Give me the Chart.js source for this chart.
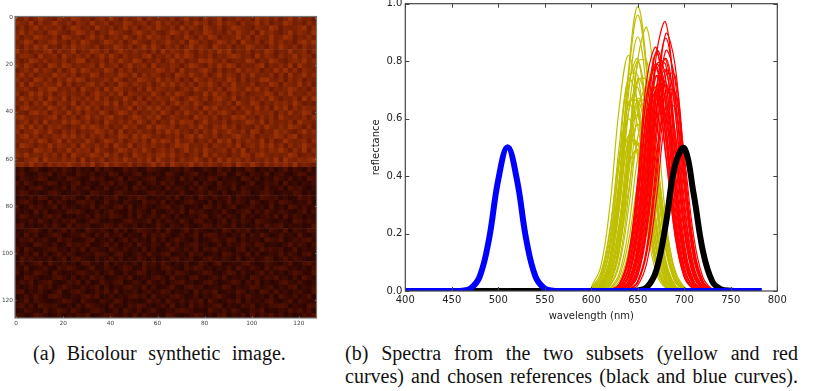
<!DOCTYPE html>
<html>
<head>
<meta charset="utf-8">
<script src="https://cdn.jsdelivr.net/npm/chart.js@4/dist/chart.umd.min.js"></script>
<style>
  html, body { margin: 0; padding: 0; background: #fff; }
  body { width: 827px; height: 391px; overflow: hidden; position: relative; }
  canvas { position: absolute; }
  #imageChart { left: 0; top: 0; filter: blur(0.6px); }
  #spectraChart { left: 368px; top: 0; }
  .caption { position: absolute; font-family: "Liberation Serif", serif; font-size: 20px; color: #111; white-space: nowrap; }
  #captionA { left: 33px; top: 342px; word-spacing: 6.5px; }
  #captionB1 { left: 345px; top: 342px; width: 453px; white-space: normal; text-align: justify; text-align-last: justify; }
  #captionB2 { left: 345px; top: 365px; width: 453px; white-space: normal; text-align: justify; text-align-last: justify; }
</style>
</head>
<body>
<canvas id="imageChart" width="330" height="340"></canvas>
<canvas id="spectraChart" width="440" height="322"></canvas>
<div class="caption" id="captionA">(a) Bicolour synthetic image.</div>
<div class="caption" id="captionB1">(b) Spectra from the two subsets (yellow and red</div>
<div class="caption" id="captionB2">curves) and chosen references (black and blue curves).</div>
<script>
// image ticks
const imageTicks = [0, 20, 40, 60, 80, 100, 120];

// intensity of the noisy image, read by eye as blocks of 2x2 image pixels (0 dark, 9 bright)
const topRows = [
  "7685797658769867578697586795867768579675867957686759786857968675",
  "8769586797685876967857698678579686758697857968758679685769867586",
  "6857968768579867597685796857869768596875976857987658769857678958",
  "7968675897657986857698765897686579868576986758697685978657968769",
  "8576987685986757968578697586978685769758698576796858769679857686",
  "6798576896758698657986857976586797685986757986859768579686758979",
  "7586979675869787685769868579697586857968759768576986758697685867",
  "9675768958679576986857976867585968769758686979576857698576967858",
  "6887596785976868579697586768957686979857685768986759687586796875",
  "7569868676857995768586976985768579685769897685676985769865787968",
  "8697575986986767859678579678596768757986586979857668957686959767",
  "5786968758579698676985868576779868596768975857696878576979685876",
  "7968577697868576985776986958687575986976857968758696768585967968",
  "8675986858697985767869757698769686857597686769858576997685868576",
  "6959768769585768968575986876857979686858797586967685769858769685",
  "7786587996768597685969867585968767578697686858976979685767986758",
  "8569796857867685797686958767697586986576969785868567798586967687",
  "6978685976958768696857697585868769757986858976957686869757685969",
  "7685869758769586877969586978576857968697567868597698576878697565",
  "5897676986857979685768679586979686587685979676858769685979586877",
  "7658978587696858769757986857686975869768586897576968778586967985",
  "8976767895868579686896757986879568767597868576989675868597676858",
  "6785859676979868575976868697585769698857967685767986958676859776",
  "7969685878657697986857697856969878576869758796857658697686987585",
  "8577976965868576798685957686758697967585869679768598576978657968",
  "6896857687979685868576986979867576858969768576897685767986895767",
  "7678698579586769757986857868597986967857685979586876958569767858",
  "5987576968768597686859769578686757989676858768695786979685867976",
  "7665987857696878597657986869757868579686976785869576868797586958",
  "8796768685859767986968575976868979675785968675769858976767985676",
  "6578959776868595768578697686959768586797585969786857686959768789",
  "7869675868797686957968768575796859767968687578597697586878695765"
];
const bottomRows = [
  "1302410231420312041320142301432102314201320413021430213024132041",
  "2410132402310421302143021340212043102341021340142032140231024312",
  "0321243012143201423012403212340132041302143021204313021421302043",
  "3142012430213402103241320140231423012140320412310240132304120213",
  "1203341021304123021402130423012041320314201321403212041130423102",
  "2431201342012310432103421201342302141023142030124301342012143021",
  "0213143021423104120324013243012131402304213124032110432302014231",
  "1342020413201342301412032104231402013421030214132042013143202140",
  "3014231240312021403213414023102341230120431302401231204020431312",
  "2120413012143420130242103132041023140423102141023403142132102403",
  "1431203423010213042143203041231420301213402313204120231404132021",
  "0213142031324102431020134212403132142034120240313204321021043132",
  "3402013142041323012431421302014203213102431321402013142340212014",
  "1123420302413104213204130243213041024132102043132402103214032143",
  "2041301243012242031412302104132420131240343120214031420131204102",
  "0324123104231013402130241312041302421030124214303122043240132341",
  "1210432130142324012413023042132041302341201303124214301102413203",
  "3042012341203140321042131204030124213140324121034021423230140212",
  "2131403024132012143203410231421340120423012043121403012141320340",
  "0423121302403421031241302142030213412301342132040231243024132101",
  "1302340421312034120403121304231420213014203401213420132102401342",
  "2140123103243102401320243014120342103243120213042132041343120203",
  "3021432042011342130241031243021031432012431024303102413020243114",
  "0143201134203021423012324012134204120341023140212043132412030421",
  "1324023410132403014213401320421302341201342012430314020134213102",
  "2013142302421131240302134214030124103423012143021243123021340213",
  "3402131024013420132414021302312430212041324012143020431412023104",
  "0131420343102134240130213423041213420130213421031421203042131240",
  "1240321012431042103214302101423042131324042013240312134102403212",
  "2413043231020314321041203243102314020413123402103240213343021043",
  "0132104124314201342013042130241021343201042131420132401021424130",
  "3201432013021324012342131403212043101243120340213041324130201324"
];
const heatColours = ["#2c0600", "#340800", "#3c0a00", "#460d00", "#501000", "#6c1a02", "#752003", "#7f2403", "#8a2904", "#973005"];

// spectra, values at the wavelengths below
const yellowWavelengths = [600, 610, 620, 630, 640, 650, 660, 670, 680, 690, 700, 710];
const yellowCurves = [
  [.002, .017, .1, .356, .767, .99, .767, .356, .1, .017, .002, 0],
  [.002, .016, .097, .346, .744, .96, .744, .346, .097, .016, .002, 0],
  [0, .004, .026, .135, .426, .805, .915, .624, .256, .063, .009, .001],
  [.002, .015, .089, .319, .686, .885, .686, .319, .089, .015, .002, 0],
  [.014, .083, .295, .636, .82, .636, .295, .083, .014, .002, 0, 0],
  [.005, .035, .162, .45, .75, .75, .45, .162, .035, .005, 0, 0],
  [.002, .014, .081, .288, .62, .8, .62, .288, .081, .014, .002, 0],
  [.001, .008, .051, .206, .503, .738, .65, .344, .109, .021, .003, 0],
  [.003, .02, .104, .33, .624, .708, .483, .198, .049, .007, .001, 0],
  [0, .004, .031, .142, .394, .657, .657, .394, .142, .031, .004, 0],
  [.001, .011, .067, .238, .512, .66, .512, .238, .067, .011, .001, 0],
  [.007, .045, .182, .443, .649, .572, .302, .096, .018, .003, 0, 0],
  [0, .002, .017, .09, .284, .537, .61, .416, .171, .042, .006, .001],
  [.001, .01, .059, .209, .45, .58, .45, .209, .059, .01, .001, 0],
  [.003, .024, .112, .31, .516, .516, .31, .112, .024, .003, 0, 0],
  [.001, .005, .035, .143, .349, .512, .45, .238, .075, .015, .002, 0],
  [.002, .014, .073, .229, .433, .492, .336, .138, .034, .005, .001, 0],
  [0, .001, .008, .048, .173, .372, .48, .372, .173, .048, .008, .001],
  [.008, .051, .206, .503, .738, .65, .344, .109, .021, .003, 0, 0],
  [.004, .031, .142, .394, .657, .657, .394, .142, .031, .004, 0, 0],
  [.003, .023, .119, .376, .71, .807, .55, .226, .056, .008, .001, 0],
  [0, .005, .034, .158, .439, .732, .732, .439, .158, .034, .005, 0],
  [.001, .007, .046, .187, .456, .669, .589, .311, .099, .019, .003, 0],
  [0, .001, .01, .061, .216, .465, .6, .465, .216, .061, .01, .001],
  [0, .003, .02, .104, .33, .624, .708, .483, .198, .049, .007, .001],
  [.01, .061, .216, .465, .6, .465, .216, .061, .01, .001, 0, 0],
  [.006, .037, .151, .369, .541, .476, .252, .08, .015, .002, 0, 0],
  [0, .005, .037, .173, .479, .797, .797, .479, .173, .037, .005, 0],
  [0, .001, .005, .034, .138, .336, .492, .433, .229, .073, .014, .002],
  [.002, .017, .09, .284, .537, .61, .416, .171, .042, .006, .001, 0]
];
const redWavelengths = [620, 630, 640, 650, 660, 670, 680, 690, 700, 710, 720, 730, 740];
const redCurves = [
  [0, .004, .027, .138, .435, .823, .935, .637, .261, .065, .01, .001, 0],
  [0, 0, .009, .062, .25, .611, .895, .788, .417, .132, .025, .004, 0],
  [0, .002, .015, .089, .317, .682, .88, .682, .317, .089, .015, .002, 0],
  [.003, .024, .125, .394, .745, .846, .577, .237, .058, .009, .001, 0, 0],
  [0, .009, .058, .234, .57, .836, .736, .389, .123, .024, .003, 0, 0],
  [0, .005, .037, .171, .473, .788, .788, .473, .171, .037, .005, 0, 0],
  [.002, .014, .084, .299, .643, .83, .643, .299, .084, .014, .002, 0, 0],
  [0, .003, .023, .119, .376, .71, .807, .55, .226, .056, .008, .001, 0],
  [0, .002, .014, .082, .292, .628, .81, .628, .292, .082, .014, .002, 0],
  [0, .008, .054, .22, .537, .787, .693, .366, .116, .022, .003, 0, 0],
  [0, 0, .005, .035, .162, .45, .75, .75, .45, .162, .035, .005, 0],
  [.003, .022, .115, .362, .684, .777, .53, .217, .053, .008, .001, 0, 0],
  [0, 0, .008, .053, .215, .523, .768, .675, .357, .113, .022, .003, 0],
  [0, .005, .033, .154, .428, .713, .713, .428, .154, .033, .005, 0, 0],
  [.002, .013, .076, .27, .581, .75, .581, .27, .076, .013, .002, 0, 0],
  [0, .003, .021, .107, .339, .641, .728, .497, .204, .05, .007, .001, 0],
  [.003, .02, .104, .33, .624, .708, .483, .198, .049, .007, .001, 0, 0],
  [0, .001, .012, .073, .259, .558, .72, .558, .259, .073, .012, .001, 0],
  [0, .007, .048, .193, .47, .689, .606, .321, .102, .02, .003, 0, 0],
  [0, 0, .004, .03, .138, .383, .638, .638, .383, .138, .03, .004, 0],
  [0, .004, .029, .132, .366, .61, .61, .366, .132, .029, .004, 0, 0],
  [0, .001, .011, .063, .223, .481, .62, .481, .223, .063, .011, .001, 0],
  [0, .008, .052, .209, .51, .748, .658, .348, .11, .021, .003, 0, 0],
  [.003, .022, .116, .366, .693, .787, .537, .22, .054, .008, .001, 0, 0],
  [0, 0, .009, .058, .234, .57, .836, .736, .389, .123, .024, .003, 0],
  [0, .003, .022, .113, .357, .675, .768, .523, .215, .053, .008, .001, 0],
  [.001, .012, .071, .252, .543, .7, .543, .252, .071, .012, .001, 0, 0],
  [0, .004, .032, .146, .405, .675, .675, .405, .146, .032, .004, 0, 0],
  [.003, .02, .102, .321, .606, .689, .47, .193, .048, .007, .001, 0, 0],
  [0, 0, .004, .033, .15, .417, .694, .694, .417, .15, .033, .004, 0],
  [0, 0, .003, .02, .102, .321, .606, .689, .47, .193, .048, .007, 0]
];
const referenceWavelengths = [400, 410, 420, 430, 440, 450, 460, 470, 480, 490, 500, 510, 520, 530, 540, 550, 560, 570, 580, 590, 600, 610, 620, 630, 640, 650, 660, 670, 680, 690, 700, 710, 720, 730, 740, 750, 760, 770, 783];
const blueReference = [0, 0, 0, 0, 0, 0, .001, .0085, .05, .18, .388, .5, .388, .18, .05, .0085, .001, 0, 0, 0, 0, 0, 0, 0, 0, 0, 0, 0, 0, 0, 0, 0, 0, 0, 0, 0, 0, 0, 0];
const blackReference = [0, 0, 0, 0, 0, 0, 0, 0, 0, 0, 0, 0, 0, 0, 0, 0, 0, 0, 0, 0, 0, 0, 0, 0, 0, .002, .014, .073, .231, .437, .497, .339, .139, .034, .005, .001, 0, 0, 0];
const wavelengthTicks = [400, 450, 500, 550, 600, 650, 700, 750, 800];
const reflectanceTicks = [0, 0.2, 0.4, 0.6, 0.8, 1];

// matplotlib style frame with the tick marks pointing inwards
const innerFrame = {
  id: "innerFrame",
  afterDraw(chart, args, opts) {
    const { ctx, chartArea: a, scales } = chart;
    ctx.save();
    ctx.strokeStyle = opts.color;
    ctx.lineWidth = 1.2;
    ctx.strokeRect(a.left, a.top, a.right - a.left, a.bottom - a.top);
    ctx.lineWidth = 1;
    ctx.beginPath();
    scales.x.ticks.forEach(t => {
      const px = Math.round(scales.x.getPixelForValue(t.value)) + 0.5;
      ctx.moveTo(px, a.top); ctx.lineTo(px, a.top + opts.size);
      ctx.moveTo(px, a.bottom); ctx.lineTo(px, a.bottom - opts.size);
    });
    scales.y.ticks.forEach(t => {
      const py = Math.round(scales.y.getPixelForValue(t.value)) + 0.5;
      ctx.moveTo(a.left, py); ctx.lineTo(a.left + opts.size, py);
      ctx.moveTo(a.right, py); ctx.lineTo(a.right - opts.size, py);
    });
    ctx.stroke();
    ctx.restore();
  }
};

function useTicks(values) {
  return scale => { scale.ticks = values.map(v => ({ value: v })); };
}

// pin an axis to a fixed thickness so the plot area lands where it should
function fixedSize(key, size) {
  return s => {
    s[key] = size;
    s.paddingTop = 0; s.paddingBottom = 0; s.paddingLeft = 0; s.paddingRight = 0;
  };
}

// image panel
const imageCells = [];
const imageColours = [];
topRows.concat(bottomRows).forEach((row, r) => {
  row.split("").forEach((digit, c) => {
    imageCells.push({ x: c * 2 + 0.5, y: r * 2 + 0.5 });
    imageColours.push(heatColours[Number(digit)]);
  });
});

new Chart(document.getElementById("imageChart").getContext("2d"), {
  type: "scatter",
  plugins: [innerFrame],
  data: {
    datasets: [{
      data: imageCells,
      pointStyle: "rect",
      pointRadius: 3.8,
      pointBorderWidth: 0,
      pointBackgroundColor: imageColours
    }]
  },
  options: {
    responsive: false,
    animation: false,
    layout: { padding: { top: 16.5, right: 13.5 } },
    plugins: { legend: { display: false }, tooltip: { enabled: false }, innerFrame: { color: "#777", size: 1.5 } },
    scales: {
      x: {
        type: "linear", min: -0.5, max: 127.5,
        afterBuildTicks: useTicks(imageTicks),
        afterFit: fixedSize("height", 22),
        grid: { display: false, drawTicks: false },
        border: { display: false },
        ticks: { font: { family: "DejaVu Sans", size: 5.8 }, color: "#444", padding: 2, maxRotation: 0 }
      },
      y: {
        type: "linear", min: -0.5, max: 127.5, reverse: true,
        afterBuildTicks: useTicks(imageTicks),
        afterFit: fixedSize("width", 15),
        grid: { display: false, drawTicks: false },
        border: { display: false },
        ticks: { font: { family: "DejaVu Sans", size: 5.8 }, color: "#444", padding: 2 }
      }
    }
  }
});

// spectra panel
function toPoints(xs, ys) {
  return ys.map((y, i) => ({ x: xs[i], y: y }));
}

const spectraSets = [
  { data: toPoints(referenceWavelengths, blueReference), borderColor: "#0000ff", borderWidth: 6 },
  { data: toPoints(referenceWavelengths, blackReference), borderColor: "#000000", borderWidth: 6 }
];
redCurves.forEach(c => spectraSets.push({ data: toPoints(redWavelengths, c), borderColor: "#ff0000", borderWidth: 1.2 }));
yellowCurves.forEach(c => spectraSets.push({ data: toPoints(yellowWavelengths, c), borderColor: "#bfbf00", borderWidth: 1.2 }));

new Chart(document.getElementById("spectraChart").getContext("2d"), {
  type: "line",
  plugins: [innerFrame],
  data: { datasets: spectraSets },
  options: {
    responsive: false,
    animation: false,
    elements: { point: { radius: 0 }, line: { tension: 0.4 } },
    layout: { padding: { top: 3.7, right: 30.7 } },
    plugins: { legend: { display: false }, tooltip: { enabled: false }, innerFrame: { color: "#444", size: 4 } },
    scales: {
      x: {
        type: "linear", min: 400, max: 800,
        afterBuildTicks: useTicks(wavelengthTicks),
        afterFit: fixedSize("height", 31),
        grid: { display: false, drawTicks: false },
        border: { display: false },
        title: { display: true, text: "wavelength (nm)", font: { family: "DejaVu Sans", size: 10 }, color: "#222", padding: { top: 1, bottom: 0 } },
        ticks: { font: { family: "DejaVu Sans", size: 10 }, color: "#222", padding: 3, maxRotation: 0 }
      },
      y: {
        type: "linear", min: 0, max: 1,
        afterBuildTicks: useTicks(reflectanceTicks),
        afterFit: fixedSize("width", 37.3),
        grid: { display: false, drawTicks: false },
        border: { display: false },
        title: { display: true, text: "reflectance", font: { family: "DejaVu Sans", size: 10 }, color: "#222", padding: { top: 2, bottom: 0 } },
        ticks: { font: { family: "DejaVu Sans", size: 10 }, color: "#222", padding: 3, callback: v => v.toFixed(1) }
      }
    }
  }
});
</script>
</body>
</html>
